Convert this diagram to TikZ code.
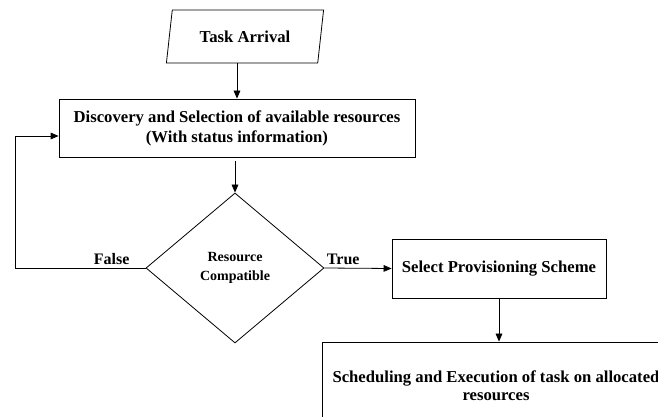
\documentclass[tikz,border=0pt]{standalone}
\usepackage{fontspec}
\setmainfont{Liberation Serif}
\usetikzlibrary{shapes.geometric,arrows.meta,positioning}

\begin{document}
\begin{tikzpicture}[
        x=0.75pt, y=-0.75pt,
        box/.style={rectangle, draw=black, semithick, align=center, inner sep=2pt, font=\bfseries\fontsize{12.5}{15}\selectfont},
        inout/.style={trapezium, trapezium left angle=79, trapezium right angle=101, trapezium stretches=true, draw=black, semithick, minimum width=118pt, minimum height=39.75pt, font=\bfseries\fontsize{12.5}{15}\selectfont},
        decision/.style={diamond, draw=black, semithick, align=center, inner sep=0pt, minimum width=133.5pt, minimum height=112.5pt, font=\bfseries\fontsize{10.5}{14.5}\selectfont},
        label/.style={font=\bfseries\fontsize{12}{14}\selectfont, inner sep=2pt},
        arrow/.style={-{Triangle[length=6pt,width=5pt]}, semithick}
    ]
    \useasboundingbox (0,0) rectangle (658,417);
    \clip (0,0) rectangle (658,417);

    \node[inout] (arrival) at (245,36.5) {Task Arrival};
    \node[box, minimum width=267pt, minimum height=43.5pt] (discovery) at (237,128) {Discovery and Selection of available resources\\(With status information)};
    \node[decision] (check) at (235,268) {Resource\\Compatible};
    \node[box, minimum width=160.5pt, minimum height=44.25pt] (provision) at (499,268.5) {Select Provisioning Scheme};
    \node[box, minimum width=261pt, minimum height=66pt, font=\bfseries\fontsize{12.5}{13.5}\selectfont] (schedule) at (496,386) {Scheduling and Execution of task on allocated\\resources};
    \coordinate (loop) at (15,268);

    \draw[arrow] (arrival.south -| discovery.north) -- (discovery.north);
    \draw[arrow, shorten <=3pt] (discovery.south -| check.north) -- (check.north);
    \draw[arrow] (check.west) -- node[label, above, pos=0.26] {False} (loop) |- ([yshift=-6pt]discovery.west);
    \draw[arrow] (check.east) -- node[label, above, pos=0.28] {True} (provision.west);
    \draw[arrow] (provision) -- (provision |- schedule.north);

\end{tikzpicture}
\end{document}
